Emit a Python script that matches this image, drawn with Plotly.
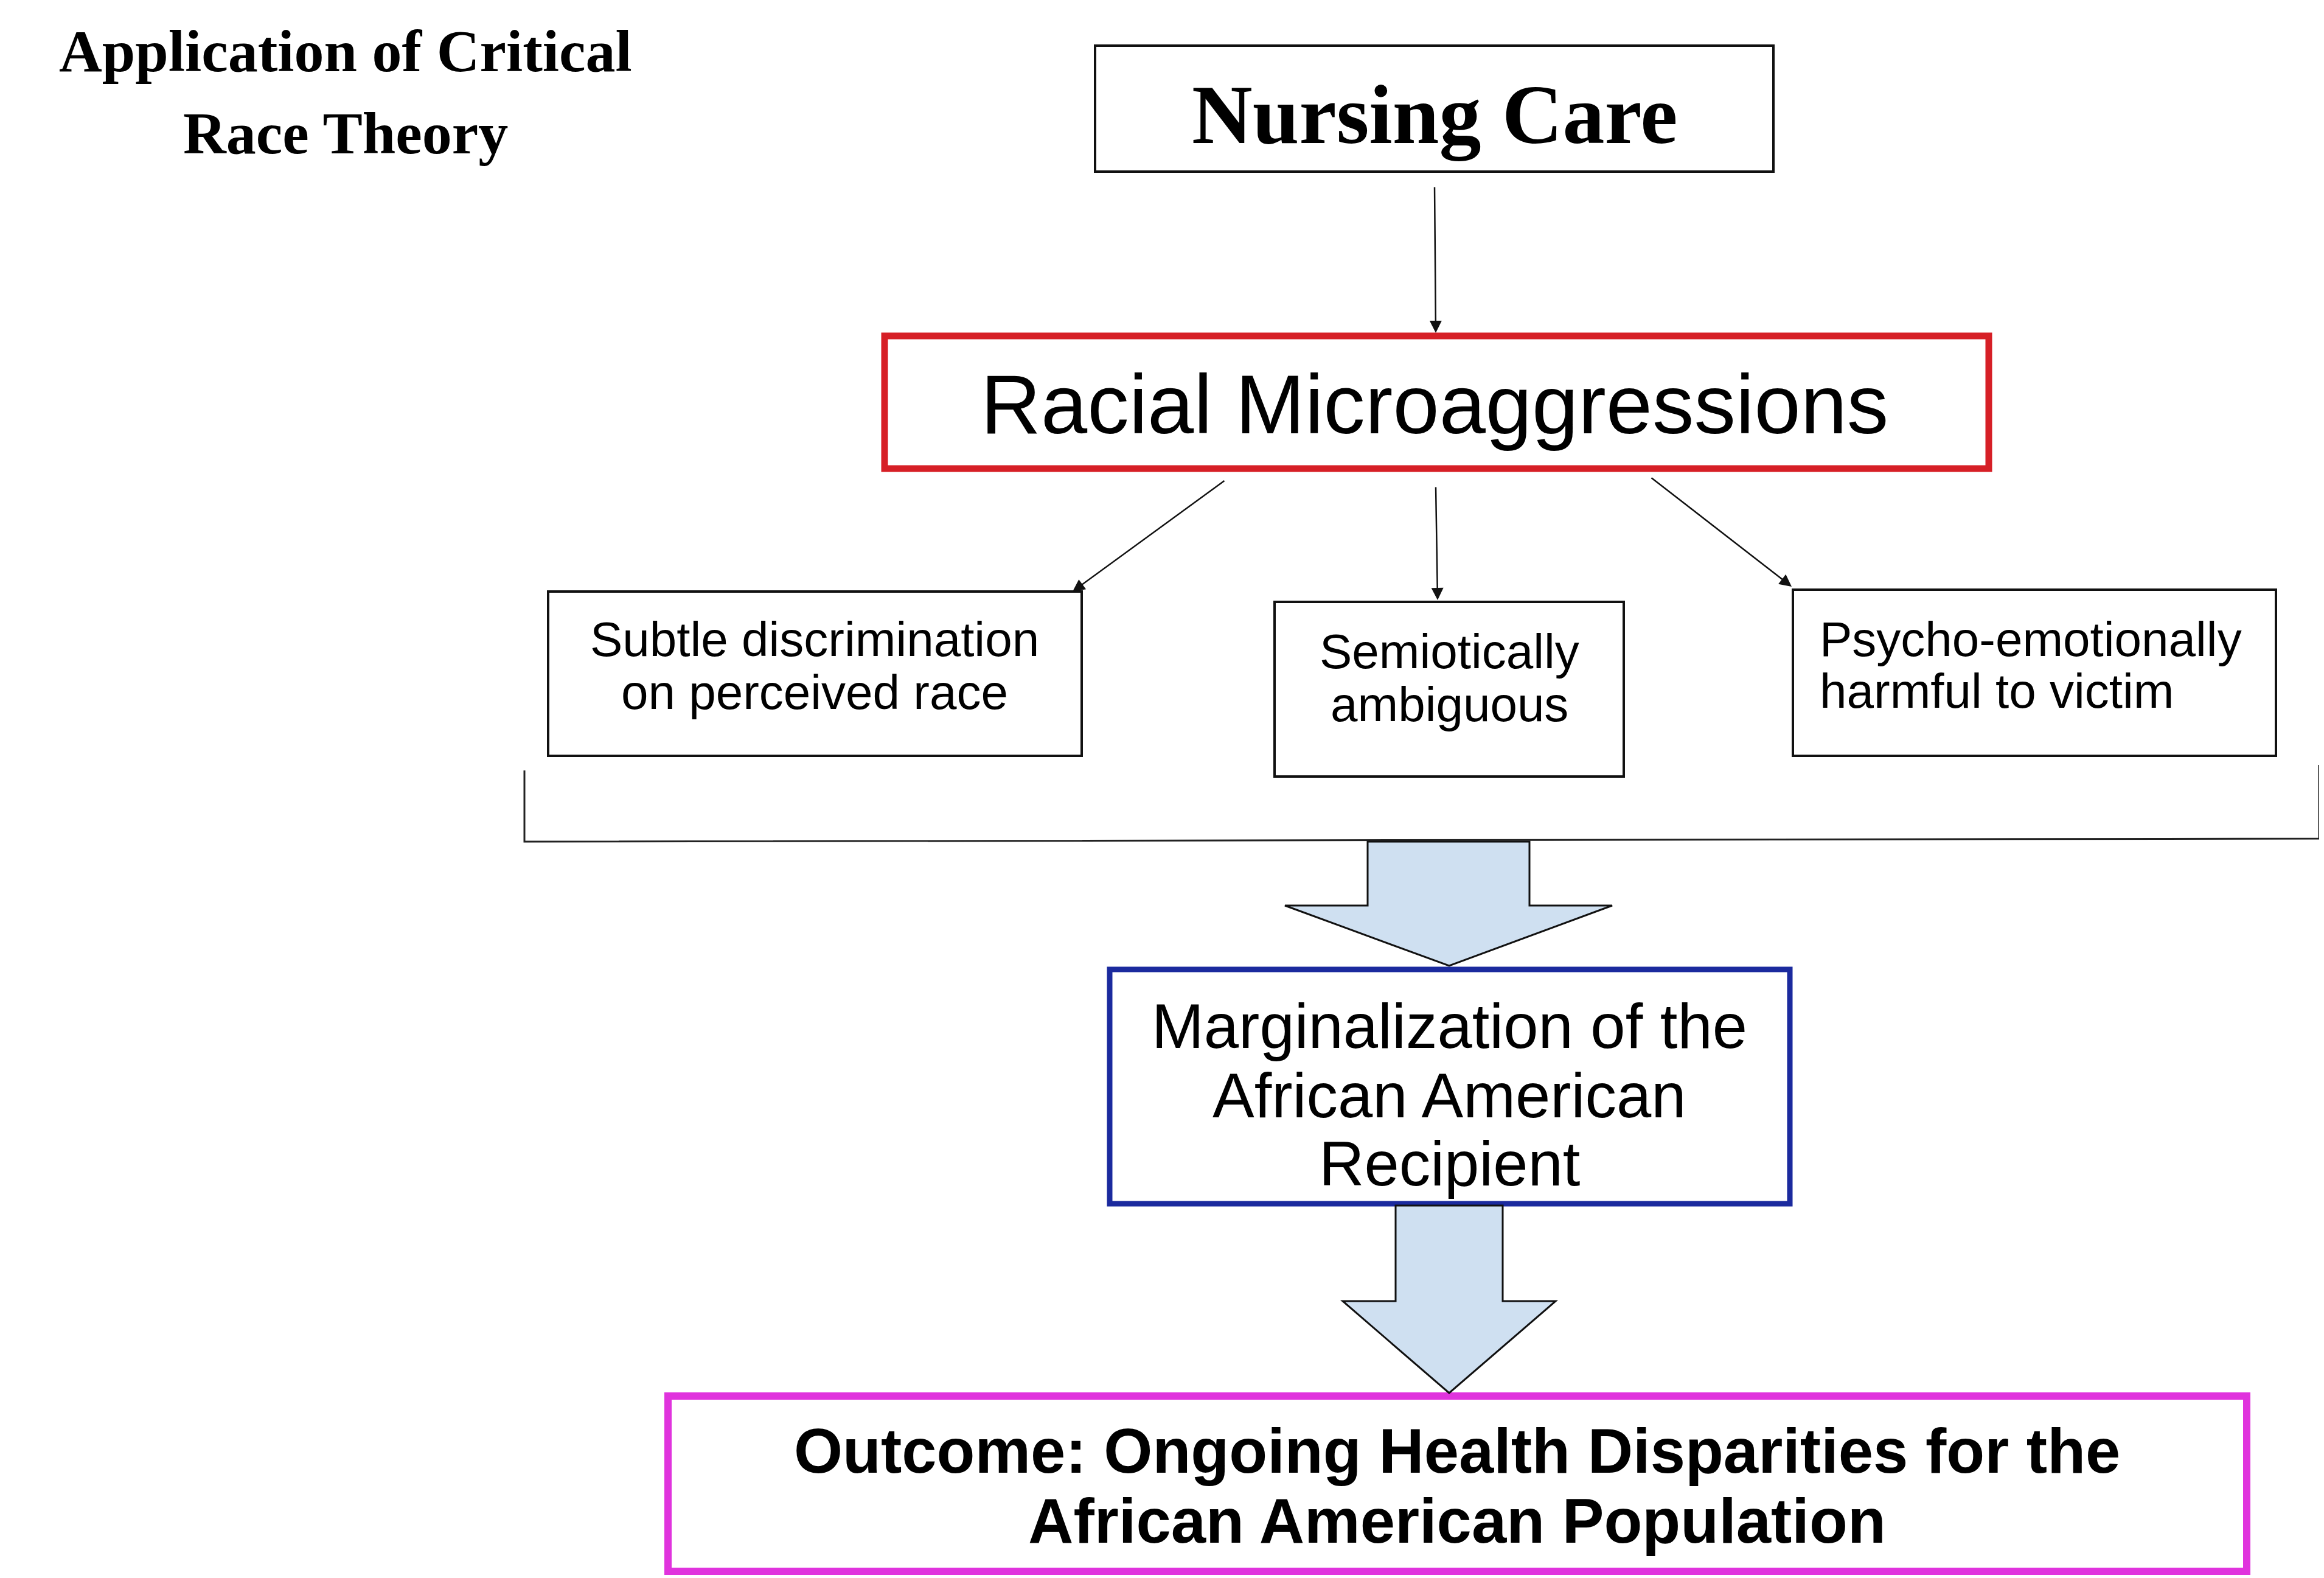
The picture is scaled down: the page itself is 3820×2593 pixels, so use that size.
import plotly.graph_objects as go

# ---------------- content ----------------
title_lines = ["Application of Critical", "Race Theory"]
top_label = ["Nursing Care"]
central_label = ["Racial Microaggressions"]
feature_labels = [
    ["Subtle discrimination", "on perceived race"],
    ["Semiotically", "ambiguous"],
    ["Psycho-emotionally", "harmful to victim"],
]
effect_lines = ["Marginalization of the", "African American", "Recipient"]
outcome_lines = ["Outcome: Ongoing Health Disparities for the", "African American Population"]

# ---------------- layout (pixel geometry) ----------------
W, H = 3820, 2593
DX, DY = 6, 6
SANS = "Liberation Sans, Arial, sans-serif"
SERIF = "Liberation Serif, Times New Roman, serif"

boxes = {
    "top": dict(x0=1798, x1=2913, y0=73, y1=280, color="#111111", width=4),
    "central": dict(x0=1452, x1=3267, y0=550, y1=768, color="#d61f26", width=11),
    "f0": dict(x0=899, x1=1776, y0=970, y1=1240, color="#111111", width=4),
    "f1": dict(x0=2093, x1=2667, y0=987, y1=1274, color="#111111", width=4),
    "f2": dict(x0=2945, x1=3739, y0=967, y1=1240, color="#111111", width=4),
    "effect": dict(x0=1822, x1=2940, y0=1591, y1=1976, color="#1b2a9e", width=9),
    "outcome": dict(x0=1096, x1=3691, y0=2292, y1=2580, color="#e033dd", width=12),
}

fig = go.Figure()
shapes = []
annotations = []

for b in boxes.values():
    shapes.append(dict(type="rect", xref="x", yref="y", x0=b["x0"], x1=b["x1"],
                       y0=b["y0"], y1=b["y1"], line=dict(color=b["color"], width=b["width"]),
                       fillcolor="white", layer="below"))

# bracket
shapes.append(dict(type="path", xref="x", yref="y",
                   path="M 860,1264 L 860,1381 L 3810,1376 L 3810,1255",
                   line=dict(color="#222222", width=3)))

# block arrows
def block_arrow(sx0, sx1, sy0, hy, hx0, hx1, tx, ty):
    return (f"M {sx0},{sy0} L {sx0},{hy} L {hx0},{hy} L {tx},{ty} "
            f"L {hx1},{hy} L {sx1},{hy} L {sx1},{sy0} Z")

shapes.append(dict(type="path", xref="x", yref="y",
                   path=block_arrow(2246, 2512, 1381, 1486, 2110, 2648, 2380, 1585),
                   fillcolor="#cfe0f1", line=dict(color="#111111", width=3)))
shapes.append(dict(type="path", xref="x", yref="y",
                   path=block_arrow(2292, 2468, 1979, 2136, 2205, 2555, 2380, 2287),
                   fillcolor="#cfe0f1", line=dict(color="#111111", width=3)))

# thin arrows
arrows = [((2356, 304), (2358, 545)),
          ((2012, 787), (1761, 970)),
          ((2358, 797), (2361, 984)),
          ((2711, 782), (2943, 962))]
for (ax, ay), (x, y) in arrows:
    annotations.append(dict(x=x, y=y, ax=ax, ay=ay, xref="x", yref="y", axref="x", ayref="y",
                            text="", showarrow=True, arrowhead=2, arrowsize=1.6,
                            arrowwidth=2.5, arrowcolor="#111111"))

def add_text(txt, x, y, size, family, bold=False, xanchor="center", color="#000000"):
    t = f"<b>{txt}</b>" if bold else txt
    annotations.append(dict(x=x, y=y, xref="x", yref="y", text=t, showarrow=False,
                            xanchor=xanchor, yanchor="middle",
                            font=dict(size=size, family=family, color=color)))

# title
add_text(title_lines[0], 566, 82, 98, SERIF, bold=True)
add_text(title_lines[1], 566, 217, 98, SERIF, bold=True)

add_text(top_label[0], 2356, 186, 138, SERIF, bold=True)
add_text(central_label[0], 2356, 662, 137, SANS)

feat_pos = [(1337, [1048, 1135], "center"), (2380, [1068, 1155], "center"), (2987, [1048, 1133], "left")]
for lines, (x, ys, anch) in zip(feature_labels, feat_pos):
    for ln, y in zip(lines, ys):
        add_text(ln, x, y, 80, SANS, xanchor=anch)

for ln, y in zip(effect_lines, [1684, 1798, 1910]):
    add_text(ln, 2380, y, 103, SANS)

for ln, y in zip(outcome_lines, [2382, 2497]):
    add_text(ln, 2393, y, 103, SANS, bold=True)

fig.update_layout(
    width=W, height=H,
    margin=dict(l=0, r=0, t=0, b=0),
    paper_bgcolor="white", plot_bgcolor="white",
    xaxis=dict(range=[DX, W + DX], visible=False, fixedrange=True),
    yaxis=dict(range=[H + DY, DY], visible=False, fixedrange=True),
    shapes=shapes, annotations=annotations, showlegend=False,
)

fig.write_html("out.html")
